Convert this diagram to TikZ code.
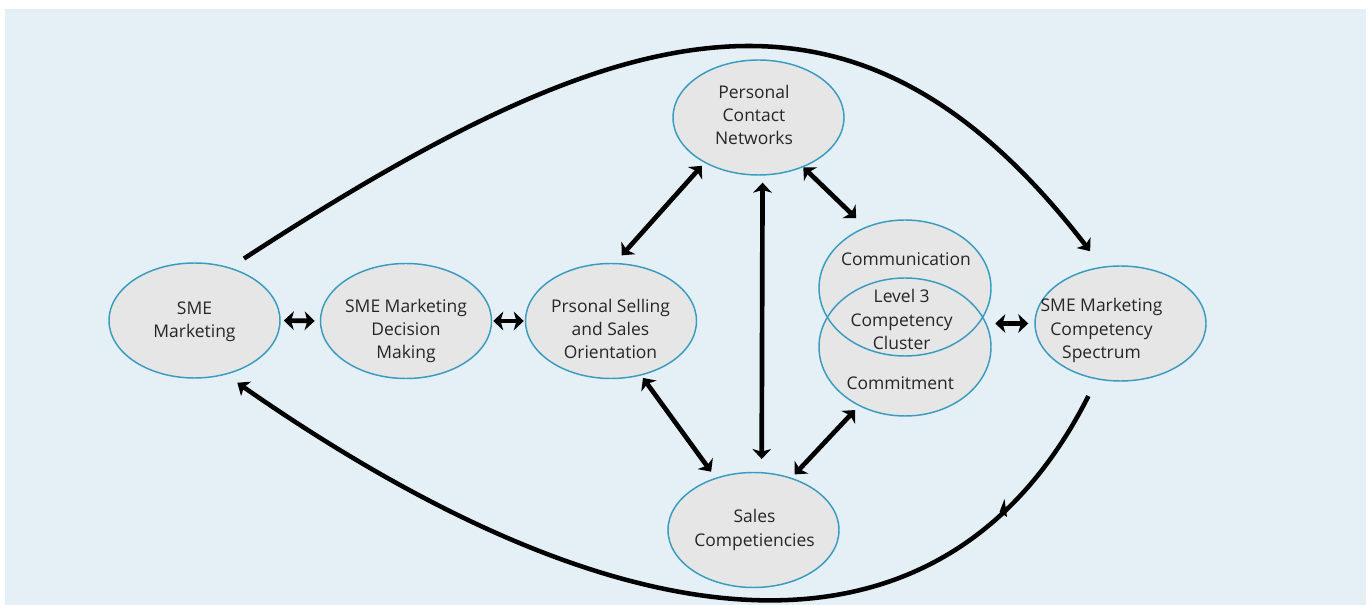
\documentclass[tikz,border=0pt]{standalone}
\usepackage{fontspec}
\setmainfont{Open Sans}
\usetikzlibrary{shapes.geometric,arrows.meta}
\definecolor{bgc}{HTML}{E4F0F5}
\definecolor{ellf}{HTML}{E6E6E6}
\definecolor{elld}{HTML}{3A9BC1}
\definecolor{txt}{HTML}{262626}
\begin{document}
\begin{tikzpicture}[x=0.75pt,y=-0.75pt,
  bubble/.style={ellipse, draw=elld, fill=ellf, line width=1.1pt, minimum width=128.25pt, minimum height=86.25pt, inner sep=0pt},
  bigbubble/.style={ellipse, fill=ellf, draw=none, minimum width=129pt, inner sep=0pt},
  lbl/.style={align=center, text=txt, font=\fontsize{13.1}{17.5}\selectfont, inner sep=0pt},
  dbl/.style={line width=3.5pt, {Stealth[length=7.5pt,width=14pt,inset=2pt]}-{Stealth[length=7.5pt,width=14pt,inset=2pt]}},
  bigcurve/.style={line width=3.4pt, -{Stealth[length=8pt,width=13pt,inset=2pt]}}
]
\useasboundingbox (0,0) rectangle (1372,605);
\fill[bgc] (5,9) rectangle (1366,605);

% ellipses
\node[bubble] (smem) at (194.5,320.5) {};
\node[bubble] (dec) at (406,321) {};
\node[bubble] (prs) at (611,321) {};
\node[bubble] (pcn) at (758.5,117.5) {};
\node[bubble] (sc) at (753.5,530) {};
\node[bubble] (smc) at (1120.5,323.5) {};
\node[bigbubble, minimum height=102pt] (comm) at (905,288) {};
\node[bigbubble, minimum height=103.5pt] (commit) at (905,347) {};
\draw[elld, line width=1.1pt] (comm.center) ellipse [x radius=64.5pt, y radius=51pt];
\draw[elld, line width=1.1pt] (commit.center) ellipse [x radius=64.5pt, y radius=51.75pt];

% labels
\node[lbl] (t1) at (194.5,322) {SME\\Marketing};
\node[lbl] (t2) at (406,331) {SME Marketing\\Decision\\Making};
\node[lbl] (t3) at (610.5,329) {Prsonal Selling\\and Sales\\Orientation};
\node[lbl] (t4) at (754,115) {Personal\\Contact\\Networks};
\node[lbl] (t5) at (754.5,530) {Sales\\Competiencies};
\node[lbl] (t6) at (906,259.5) {Communication};
\node[lbl] (t7) at (901.7,319.7) {Level 3\\Competency\\Cluster};
\node[lbl] (t8) at (900.3,383.3) {Commitment};
\node[lbl] (t9) at (1101.5,330.5) {SME Marketing\\Competency\\Spectrum};

% double arrows
\draw[dbl, shorten <=2.3pt, shorten >=3.8pt] (smem.east) -- (dec.west);
\draw[dbl, shorten <=0.75pt, shorten >=0.75pt] (dec.east) -- (prs.west);
\draw[dbl, shorten <=7.5pt, shorten >=3pt] (prs.86.6) -- (pcn.220);
\draw[dbl, shorten <=5.25pt, shorten >=9.75pt] (pcn.-86) -- (sc.82.3);
\draw[dbl, shorten <=0pt, shorten >=9.75pt] (pcn.-48) -- (comm.123.5);
\draw[dbl, shorten <=2.25pt, shorten >=5.6pt] (prs.-61.5) -- (sc.126.7);
\draw[dbl, shorten <=4.5pt, shorten >=3.4pt] (commit.-128.4) -- (sc.54.3);
\draw[dbl, shorten <=3pt, shorten >=4.5pt] (comm.east |- smc.west) -- (smc.west);

% big curves
\draw[bigcurve, shorten <=12.3pt, shorten >=14.6pt] (smem.56.6) .. controls (621.9,12.8) and (853.8,-55.1) .. (smc.108.4);
\draw[bigcurve, shorten <=13.9pt, shorten >=10.5pt] (smc.-113) .. controls (950,670) and (650,670) .. (smem.-60.1);
% small barb on the lower curve
\fill[black] (999.5,512) -- (1004.5,499) -- (1007,517) -- cycle;
\end{tikzpicture}
\end{document}
